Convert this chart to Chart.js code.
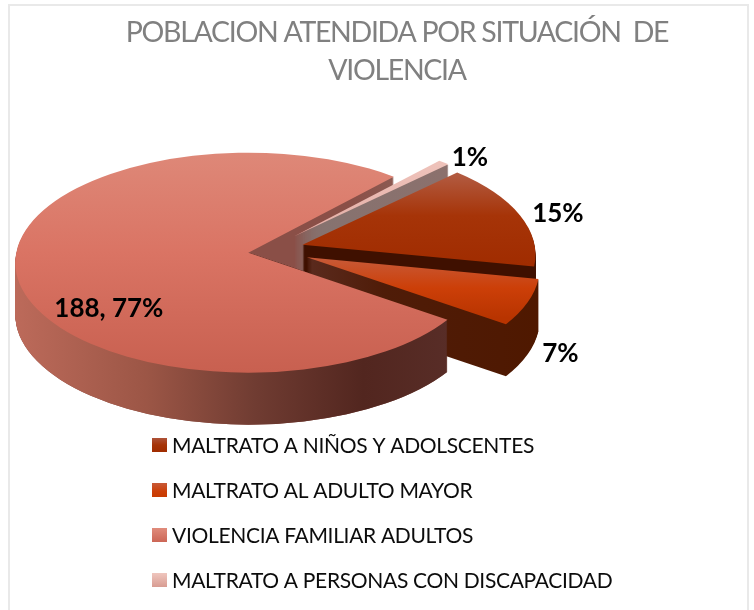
<!DOCTYPE html>
<html>
<head>
<meta charset="utf-8">
<style>html,body{margin:0;padding:0;background:#fff}canvas{display:block}</style>
<script src="https://cdn.jsdelivr.net/npm/chart.js@4"></script>
</head>
<body>
<canvas id="c" width="754" height="610"></canvas>
<script>
const categories = ["MALTRATO A NIÑOS Y ADOLSCENTES","MALTRATO AL ADULTO MAYOR","VIOLENCIA FAMILIAR ADULTOS","MALTRATO A PERSONAS CON DISCAPACIDAD"];
const values = [37, 17, 188, 2];
const showValue = [false, false, true, false];
const titleLines = ["POBLACION ATENDIDA POR SITUACIÓN  DE","VIOLENCIA"];

const sliceOffsets = [37, 41, 20, 40];
const topStops = [
  [[0,"#b25a40"],[0.45,"#a63408"],[1,"#a02c00"]],
  [[0,"#c85a38"],[0.5,"#cc3f08"],[1,"#b83400"]],
  [[0,"#de8878"],[0.45,"#da7464"],[1,"#c86050"]],
  [[0,"#eec2ba"],[1,"#e4aca4"]]
];
const swatchStops = [
  [[0,"#ae5238"],[0.5,"#a63408"],[1,"#a02c00"]],
  [[0,"#c85a38"],[0.6,"#cc3f08"],[1,"#c83a00"]],
  [[0,"#e08c7c"],[1,"#cc6656"]],
  [[0,"#efc6be"],[1,"#d89c92"]]
];
const wallStops = [
  [[0,"#3f1000"],[1,"#3f1000"]],
  [[0,"#5c2c20"],[0.35,"#4f1c08"],[1,"#4f1800"]],
  [[0,"#bc6a5a"],[0.3,"#9c5646"],[0.55,"#703c32"],[0.8,"#52261f"],[1,"#582d27"]],
  [[0,"#857370"],[1,"#8f6f6b"]]
];
const backWallStops = [[0,"#8a4f47"],[0.7,"#8a4f47"],[1,"#8c5a52"]];
const labelNudges = [[38,-2],[33,51],[90,27],[26,-5]];
const PIE = {cx:268, cy:261, rx:233, ry:110, depth:52, lift:10, squash:0.47};
const LEG = {swatchX:152, textX:172, size:15, firstY:445, stepY:45};
const FONT = "Lato, 'Open Sans', sans-serif";

function hGrad(ctx, x0, x1, stops){const g=ctx.createLinearGradient(x0,0,x1,0);stops.forEach(s=>g.addColorStop(s[0],s[1]));return g;}
function vGrad(ctx, y0, y1, stops){const g=ctx.createLinearGradient(0,y0,0,y1);stops.forEach(s=>g.addColorStop(s[0],s[1]));return g;}

function geom(el){
  const p = el.getProps(['startAngle','endAngle'], true);
  const mid = (p.startAngle+p.endAngle)/2;
  const off = el.options.offset||0;
  const cx = PIE.cx + Math.cos(mid)*off;
  const cy = PIE.cy + Math.sin(mid)*off*PIE.squash;
  return {a:p.startAngle,b:p.endAngle,mid,cx,cy,ax:cx,ay:cy-PIE.lift};
}
function slicePath(ctx,g,d){
  ctx.beginPath();
  ctx.moveTo(g.ax,g.ay+d);
  ctx.ellipse(g.cx,g.cy+d,PIE.rx,PIE.ry,0,g.a,g.b);
  ctx.closePath();
}
function wall(ctx,g,fill){
  ctx.fillStyle=fill;
  for(let d=PIE.depth;d>=1;d--){slicePath(ctx,g,d);ctx.fill();}
}
function face(ctx,g,i){
  const yTop=g.cy-PIE.ry, yBot=g.cy+PIE.ry;
  let y0=yTop,y1=yBot;
  if(i===0){y0=175;y1=265;} else if(i===1){y0=258;y1=318;} else if(i===3){y0=165;y1=240;}
  ctx.fillStyle=vGrad(ctx,y0,y1,topStops[i]);
  slicePath(ctx,g,0);ctx.fill();
}

const pie3d = {
  id:'pie3d',
  beforeDraw(chart){
    const ctx=chart.ctx;
    ctx.save();
    ctx.fillStyle="#fff";ctx.fillRect(0,0,754,610);
    ctx.strokeStyle="#e9e9e9";ctx.lineWidth=2;
    ctx.strokeRect(9,5,739,640);
    ctx.restore();
    ctx.letterSpacing="-1.3px";
  },
  beforeDatasetsDraw(chart){
    const ctx=chart.ctx;
    ctx.letterSpacing="0px";
    const gs=chart.getDatasetMeta(0).data.map(geom);
    const big=gs[2];
    ctx.save();
    wall(ctx,big,hGrad(ctx,240,395,backWallStops));
    [3,0,1].forEach(i=>{
      wall(ctx,gs[i],hGrad(ctx,i===3?290:300,540,wallStops[i]));
      face(ctx,gs[i],i);
    });
    const px=big.cx+PIE.rx*Math.cos(big.a), py=big.cy+PIE.ry*Math.sin(big.a);
    ctx.save();
    ctx.beginPath();
    ctx.moveTo(big.ax,big.ay);ctx.lineTo(px,py);ctx.lineTo(px,610);ctx.lineTo(0,610);ctx.lineTo(0,big.ay);ctx.closePath();
    ctx.clip();
    wall(ctx,big,hGrad(ctx,16,450,wallStops[2]));
    ctx.restore();
    face(ctx,big,2);
    ctx.restore();
    return false;
  },
  afterDraw(chart){
    const ctx=chart.ctx;
    const total=values.reduce((a,b)=>a+b,0);
    const gs=chart.getDatasetMeta(0).data.map(geom);
    ctx.save();
    ctx.textBaseline="middle";
    ctx.fillStyle="#000";
    ctx.font="bold 26px "+FONT;
    ctx.textAlign="center";
    gs.forEach((g,i)=>{
      const pct=Math.round(values[i]/total*100)+"%";
      const t=showValue[i]?values[i]+", "+pct:pct;
      const x=g.cx+Math.cos(g.mid)*PIE.rx+labelNudges[i][0];
      const y=g.cy+Math.sin(g.mid)*PIE.ry+labelNudges[i][1];
      ctx.fillText(t,x,y);
    });
    ctx.textAlign="left";
    ctx.font="21px "+FONT;
    ctx.letterSpacing="-0.32px";
    categories.forEach((c,i)=>{
      const y=LEG.firstY+i*LEG.stepY;
      ctx.fillStyle=vGrad(ctx,y-7,y+7,swatchStops[i]);
      ctx.fillRect(LEG.swatchX,y-7,LEG.size,14);
      ctx.fillStyle="#0c0c0c";
      ctx.fillText(c,LEG.textX,y+1);
    });
    ctx.letterSpacing="0px";
    ctx.restore();
  }
};

new Chart(document.getElementById('c'),{
  type:'pie',
  data:{labels:categories,datasets:[{data:values,offset:sliceOffsets,backgroundColor:swatchStops.map(s=>s[1][1]),borderWidth:0}]},
  plugins:[pie3d],
  options:{
    responsive:false,animation:false,devicePixelRatio:1,
    rotation:41.6,
    layout:{padding:{left:40,right:0,top:0,bottom:0}},
    events:[],
    plugins:{
      legend:{display:false},
      tooltip:{enabled:false},
      title:{display:true,text:titleLines,color:"#808080",padding:{top:13,bottom:8},
        font:{family:FONT,size:28.5,weight:'normal',lineHeight:1.36}}
    }
  }
});
</script>
</body>
</html>
